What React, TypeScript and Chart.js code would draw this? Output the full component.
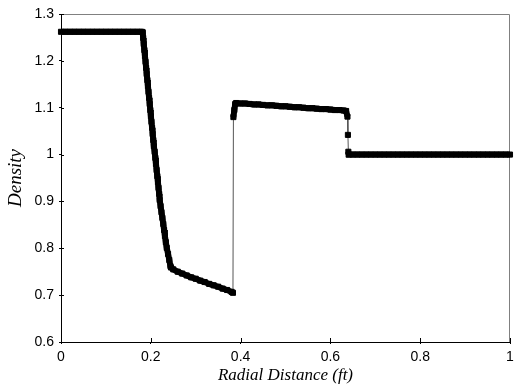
import React, { useEffect, useRef } from 'react';
import { Chart, registerables } from 'chart.js';

Chart.register(...registerables);

// ---- data ----
const coreX = [0, 0.01, 0.02, 0.03, 0.04, 0.05, 0.06, 0.07, 0.08, 0.09, 0.1, 0.11, 0.12, 0.13, 0.14, 0.15, 0.16, 0.17, 0.18, 0.182];
const coreDensity = [1.262, 1.262, 1.262, 1.262, 1.262, 1.262, 1.262, 1.262, 1.262, 1.262, 1.262, 1.262, 1.262, 1.262, 1.262, 1.262, 1.262, 1.262, 1.262, 1.261];

const fallX = [0.183, 0.1843, 0.1857, 0.187, 0.1883, 0.1896, 0.1909, 0.1923, 0.1936, 0.1949, 0.1962, 0.1976, 0.1989, 0.2002, 0.2015, 0.2029, 0.2042, 0.2055, 0.2068, 0.2086, 0.2101, 0.2115, 0.213, 0.2145, 0.2159, 0.2172, 0.2187, 0.2198, 0.2218, 0.2238, 0.2258, 0.2278, 0.2296, 0.2315, 0.2335, 0.2355, 0.2384, 0.2412, 0.2437];
const fallDensity = [1.249, 1.236, 1.223, 1.21, 1.198, 1.185, 1.172, 1.159, 1.146, 1.134, 1.121, 1.108, 1.095, 1.082, 1.07, 1.057, 1.044, 1.031, 1.018, 1.006, 0.993, 0.98, 0.967, 0.954, 0.941, 0.929, 0.916, 0.903, 0.89, 0.877, 0.865, 0.852, 0.839, 0.826, 0.813, 0.801, 0.788, 0.775, 0.762];

const tailX = [0.245, 0.25, 0.26, 0.27, 0.28, 0.29, 0.3, 0.31, 0.32, 0.33, 0.34, 0.35, 0.36, 0.37, 0.38, 0.383];
const tailDensity = [0.759, 0.755, 0.75, 0.746, 0.742, 0.738, 0.735, 0.731, 0.728, 0.724, 0.721, 0.718, 0.714, 0.711, 0.707, 0.705];

const shellX = [0.384, 0.386, 0.388, 0.39, 0.4, 0.41, 0.42, 0.43, 0.44, 0.45, 0.46, 0.47, 0.48, 0.49, 0.5, 0.51, 0.52, 0.53, 0.54, 0.55, 0.56, 0.57, 0.58, 0.59, 0.6, 0.61, 0.62, 0.63, 0.635];
const shellDensity = [1.08, 1.095, 1.108, 1.11, 1.109, 1.109, 1.108, 1.107, 1.107, 1.106, 1.105, 1.105, 1.104, 1.103, 1.103, 1.102, 1.101, 1.101, 1.1, 1.099, 1.099, 1.098, 1.097, 1.097, 1.096, 1.095, 1.095, 1.094, 1.093];

const dropX = [0.638, 0.639, 0.64];
const dropDensity = [1.081, 1.042, 1.006];

const ambientX = [0.641, 0.65, 0.66, 0.67, 0.68, 0.69, 0.7, 0.71, 0.72, 0.73, 0.74, 0.75, 0.76, 0.77, 0.78, 0.79, 0.8, 0.81, 0.82, 0.83, 0.84, 0.85, 0.86, 0.87, 0.88, 0.89, 0.9, 0.91, 0.92, 0.93, 0.94, 0.95, 0.96, 0.97, 0.98, 0.99, 1];
const ambientDensity = [1, 1, 1, 1, 1, 1, 1, 1, 1, 1, 1, 1, 1, 1, 1, 1, 1, 1, 1, 1, 1, 1, 1, 1, 1, 1, 1, 1, 1, 1, 1, 1, 1, 1, 1, 1, 1];

const xTicks = [0, 0.2, 0.4, 0.6, 0.8, 1];
const xTickLabels = ['0', '0.2', '0.4', '0.6', '0.8', '1'];
const yTicks = [0.6, 0.7, 0.8, 0.9, 1.0, 1.1, 1.2, 1.3];
const yTickLabels = ['0.6', '0.7', '0.8', '0.9', '1', '1.1', '1.2', '1.3'];

const xTitle = 'Radial Distance (ft)';
const yTitle = 'Density';

const segments: [number[], number[]][] = [
  [coreX, coreDensity],
  [fallX, fallDensity],
  [tailX, tailDensity],
  [shellX, shellDensity],
  [dropX, dropDensity],
  [ambientX, ambientDensity],
];

const points = segments.flatMap(([xs, ys]) => xs.map((x, i) => ({ x, y: ys[i] })));

// a jump between neighbouring samples is drawn as a thin line, otherwise the dense markers form a solid band
const isJump = (c: any) => Math.abs(c.p1.parsed.y - c.p0.parsed.y) > 0.03;

// grey top/right frame of the plot area, plus the inner half of the crossing tick marks
const framePlugin = {
  id: 'frame',
  beforeDatasetsDraw(chart: any) {
    const { ctx, chartArea: a, scales } = chart;
    ctx.save();
    ctx.strokeStyle = '#808080';
    ctx.lineWidth = 1;
    ctx.beginPath();
    ctx.moveTo(a.left, Math.round(a.top) + 0.5);
    ctx.lineTo(Math.round(a.right) - 0.5, Math.round(a.top) + 0.5);
    ctx.lineTo(Math.round(a.right) - 0.5, a.bottom);
    ctx.stroke();

    ctx.strokeStyle = '#000';
    ctx.beginPath();
    xTicks.forEach((v) => {
      const px = Math.round(scales.x.getPixelForValue(v)) + 0.5;
      ctx.moveTo(px, a.bottom);
      ctx.lineTo(px, a.bottom - 4);
    });
    yTicks.forEach((v) => {
      const py = Math.round(scales.y.getPixelForValue(v)) + 0.5;
      ctx.moveTo(a.left, py);
      ctx.lineTo(a.left + 3, py);
    });
    ctx.stroke();
    ctx.restore();
  },
};

const tickFont = { family: "'Liberation Sans', Arial, sans-serif", size: 14 };

export default function App() {
  const ref = useRef<HTMLCanvasElement>(null);
  useEffect(() => {
    if (!ref.current) return;
    const chart = new Chart(ref.current, {
      type: 'scatter',
      data: {
        datasets: [
          {
            data: points,
            showLine: true,
            borderColor: '#000',
            borderWidth: 6,
            borderCapStyle: 'butt',
            borderJoinStyle: 'miter',
            segment: {
              borderWidth: (c: any) => (isJump(c) ? 1 : 6),
              borderColor: (c: any) => (isJump(c) ? '#555' : '#000'),
            },
            pointStyle: 'rect',
            pointRadius: 3.6,
            pointBorderWidth: 1,
            pointBackgroundColor: '#000',
            pointBorderColor: '#000',
            clip: false as any,
          } as any,
        ],
      },
      options: {
        animation: false,
        responsive: false,
        events: [],
        layout: { padding: { top: 14, right: 1, left: 0, bottom: 0 } },
        plugins: { legend: { display: false }, tooltip: { enabled: false } },
        scales: {
          x: {
            type: 'linear',
            min: 0,
            max: 1,
            afterBuildTicks: (s: any) => {
              s.ticks = xTicks.map((v) => ({ value: v }));
            },
            afterFit: (s: any) => {
              s.height = 50;
              s.paddingLeft = 0;
              s.paddingRight = 0;
            },
            ticks: {
              callback: (_v: any, i: number) => xTickLabels[i],
              font: tickFont,
              color: '#000',
              padding: 5,
              maxRotation: 0,
              autoSkip: false,
            },
            grid: { drawOnChartArea: false, color: '#000', tickLength: 2 },
            border: { color: '#000', width: 1 },
            title: {
              display: true,
              text: xTitle,
              color: '#000',
              font: { family: "'Liberation Serif', 'Times New Roman', serif", style: 'italic', size: 17 },
              padding: { top: 0, bottom: 6 },
            },
          },
          y: {
            type: 'linear',
            min: 0.6,
            max: 1.3,
            afterBuildTicks: (s: any) => {
              s.ticks = yTicks.map((v) => ({ value: v }));
            },
            afterFit: (s: any) => {
              s.width = 61;
              s.paddingTop = 0;
              s.paddingBottom = 0;
            },
            ticks: {
              callback: (_v: any, i: number) => yTickLabels[i],
              font: tickFont,
              color: '#000',
              padding: 5,
              autoSkip: false,
            },
            grid: { drawOnChartArea: false, color: '#000', tickLength: 2 },
            border: { color: '#000', width: 1 },
            title: {
              display: true,
              text: yTitle,
              color: '#000',
              font: { family: "'Liberation Serif', 'Times New Roman', serif", style: 'italic', size: 19 },
              padding: { top: 5, bottom: 0 },
            },
          },
        },
      } as any,
      plugins: [framePlugin],
    });
    return () => chart.destroy();
  }, []);
  return (
    <div style={{ position: 'absolute', left: 0, top: 0, width: 515, height: 392, background: '#fff' }}>
      <canvas ref={ref} width={515} height={392} style={{ display: 'block' }} />
    </div>
  );
}
